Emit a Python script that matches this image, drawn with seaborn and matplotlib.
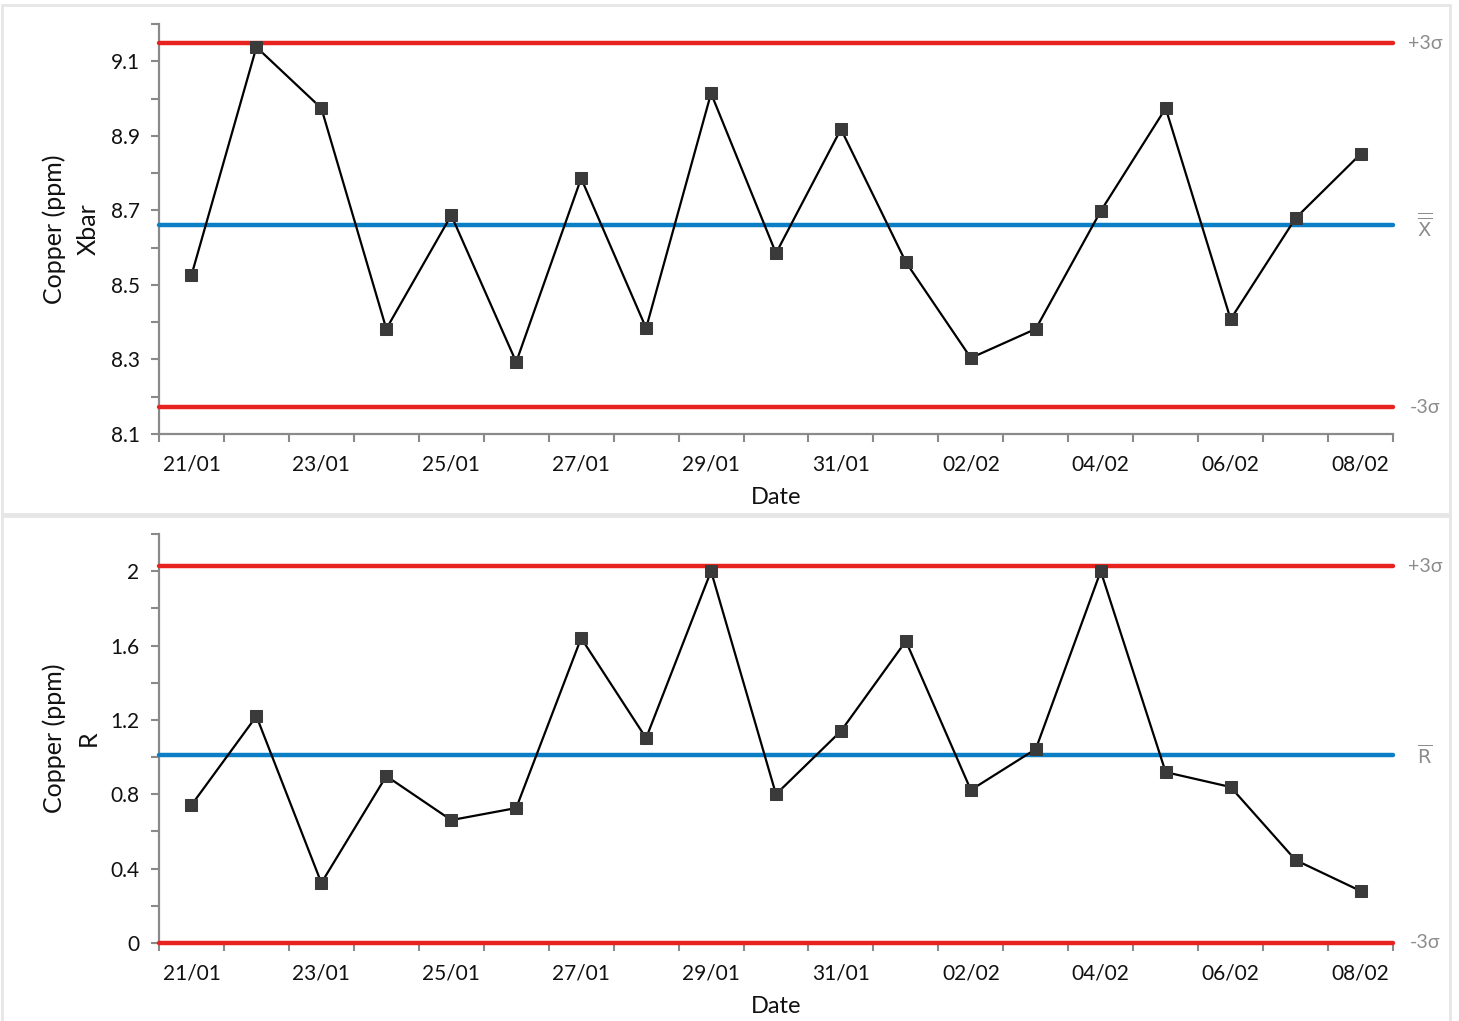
import matplotlib
matplotlib.use("Agg")
import matplotlib.pyplot as plt
import matplotlib.patches as mpatches
import matplotlib.transforms as mtransforms
import numpy as np
import pandas as pd
import seaborn as sns

# Sampling days
dates = ["21/01", "22/01", "23/01", "24/01", "25/01", "26/01", "27/01", "28/01",
         "29/01", "30/01", "31/01", "01/02", "02/02", "03/02", "04/02", "05/02",
         "06/02", "07/02", "08/02"]

# Subgroup means of copper concentration (ppm)
xbar_values = [8.526, 9.138, 8.974, 8.382, 8.687, 8.293, 8.786, 8.384, 9.014, 8.585,
               8.918, 8.561, 8.304, 8.382, 8.698, 8.974, 8.408, 8.679, 8.851]

# Subgroup ranges of copper concentration (ppm)
range_values = [0.742, 1.220, 0.323, 0.898, 0.661, 0.726, 1.640, 1.102, 2.000, 0.800,
                1.140, 1.624, 0.823, 1.043, 2.000, 0.919, 0.839, 0.446, 0.280]

# Shewhart constants for subgroups of size 6
A2, D3, D4 = 0.483, 0.0, 2.004

df = pd.DataFrame({"Date": dates, "Xbar": xbar_values, "R": range_values})

x_center = float(np.mean(xbar_values))
r_center = float(np.mean(range_values))
x_limits = (x_center - A2 * r_center, x_center, x_center + A2 * r_center)
r_limits = (D3 * r_center, r_center, D4 * r_center)

sns.set_theme(style="white")
plt.rcParams["font.family"] = ["Lato", "DejaVu Sans"]
plt.rcParams["mathtext.fontset"] = "dejavusans"

W, H = 1459, 1021
fig = plt.figure(figsize=(W / 100, H / 100), dpi=100)
fig.patch.set_facecolor("white")

# Light panel frames around each chart
for (x0, y0, x1, y1) in [(2, 5, 1450, 514), (2, 516, 1450, 1025)]:
    fig.patches.append(mpatches.Rectangle(
        (x0 / W, 1 - y1 / H), (x1 - x0) / W, (y1 - y0) / H,
        transform=fig.transFigure, facecolor="none", edgecolor="#e6e6e6",
        linewidth=2, zorder=0))

RED = "#e8231f"
BLUE = "#0a7fc6"
SPINE = "#8a8a8a"
SIDE = "#8c8c8c"
TEXT = "#111111"

panels = [
    dict(col="Xbar", rect=[159 / W, 1 - 434 / H, 1234 / W, 410 / H],
         ylim=(8.1, 9.2), major=np.arange(8.1, 9.15, 0.2), minor=np.arange(8.2, 9.25, 0.2),
         fmt="{:.1f}", ylabel="Copper (ppm)\nXbar", limits=x_limits,
         center_label=r"$\overline{\overline{\mathrm{X}}}$"),
    dict(col="R", rect=[159 / W, 1 - 943 / H, 1234 / W, 409 / H],
         ylim=(0, 2.2), major=np.arange(0, 2.05, 0.4), minor=np.arange(0.2, 2.25, 0.4),
         fmt="{:g}", ylabel="Copper (ppm)\nR", limits=r_limits,
         center_label=r"$\overline{\mathrm{R}}$"),
]

n = len(dates)
for p in panels:
    ax = fig.add_axes(p["rect"])
    ax.set_facecolor("none")
    lcl, cl, ucl = p["limits"]
    for val, col in [(ucl, RED), (lcl, RED), (cl, BLUE)]:
        ax.axhline(val, color=col, lw=3.2, solid_capstyle="round", zorder=3, clip_on=False)

    sns.lineplot(data=df, x="Date", y=p["col"], ax=ax, sort=False, color="black",
                 lw=1.6, marker="s", markersize=8, markerfacecolor="#3a3a3a",
                 markeredgecolor="#3a3a3a", zorder=4)

    ax.set_xlim(-0.5, n - 0.5)
    ax.set_ylim(*p["ylim"])

    # Category boundaries carry tick marks; every other date is labelled
    ax.set_xticks(np.arange(-0.5, n, 1.0))
    ax.set_xticklabels([])
    ax.set_xticks(np.arange(0, n, 2), minor=True)
    ax.set_xticklabels(dates[::2], minor=True)
    ax.tick_params(axis="x", which="major", bottom=True, length=6, width=1.5, color=SPINE,
                   direction="out")
    ax.tick_params(axis="x", which="minor", bottom=True, length=0, pad=15, labelsize=15,
                   labelcolor=TEXT)

    ax.set_yticks(p["major"])
    ax.set_yticklabels([p["fmt"].format(v) for v in p["major"]])
    ax.set_yticks(p["minor"], minor=True)
    ax.tick_params(axis="y", which="both", left=True, length=6, width=1.5, color=SPINE,
                   direction="out", labelsize=15, labelcolor=TEXT, pad=8)

    for s in ["top", "right"]:
        ax.spines[s].set_visible(False)
    for s in ["left", "bottom"]:
        ax.spines[s].set_color(SPINE)
        ax.spines[s].set_linewidth(1.6)

    ax.set_xlabel("Date", fontsize=17, color=TEXT, labelpad=9)
    ax.set_ylabel(p["ylabel"], fontsize=18, color=TEXT, labelpad=8, linespacing=1.55)

    trans = mtransforms.blended_transform_factory(ax.transAxes, ax.transData)
    xr = 1.026
    ax.text(xr, ucl, "+3σ", transform=trans, ha="center", va="center", fontsize=14, color=SIDE)
    ax.text(xr, cl, p["center_label"], transform=trans, ha="center", va="center",
            fontsize=14, color=SIDE)
    ax.text(xr, lcl, "-3σ", transform=trans, ha="center", va="center", fontsize=14, color=SIDE)

fig.savefig("out.png", dpi=100, facecolor="white")
